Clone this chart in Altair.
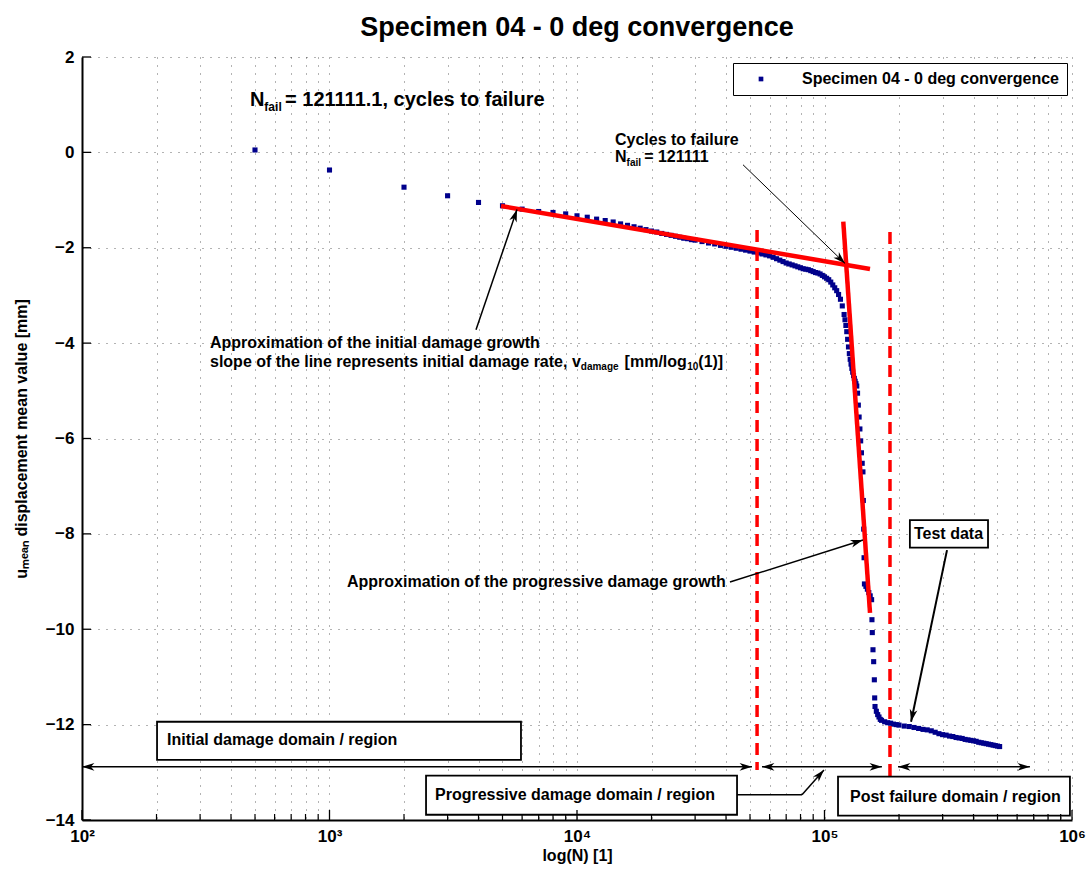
import math
import altair as alt
import pandas as pd

# ---------------- data ----------------
N_CYCLES = [
    500, 1000, 2000, 3000, 4000,
    5000, 6000, 7000, 8000, 9000, 10000, 11000, 12000, 13000, 14000, 15000, 16000, 17000, 18000, 19000, 20000,
    21000, 22000, 23000, 24000, 25000, 26000, 27000, 28000, 29000, 30000,
    32000, 34000, 36000, 38000, 40000, 42000, 44000, 46000, 48000, 50000,
    52000, 54000, 56000, 58000, 60000, 62000, 64000, 66000, 68000, 70000,
    72000, 74000, 76000, 78000, 80000, 82000, 84000, 86000, 88000, 90000,
    92000, 94000, 96000, 98000, 100000, 102000, 104000, 106000, 108000, 110000,
    112000, 114000, 116000, 118000, 120000, 121000, 122000, 123000, 124000, 125000,
    126000, 127000, 128000, 129000, 130000, 131000, 132000, 133000, 134000, 135000,
    136000, 137000, 138000, 139000, 140000, 141000, 142000, 143000, 143500, 144000,
    144500, 145000, 147000, 149000, 151000, 153000, 155000, 155500, 156000, 157000,
    158000, 159000, 159500, 160000, 162000, 164000, 166000, 168000, 170000, 175000,
    180000, 185000, 190000, 195000, 200000, 210000, 220000, 230000, 240000, 250000,
    260000, 270000, 280000, 290000, 300000, 310000, 320000, 330000, 340000, 350000,
    360000, 370000, 380000, 390000, 400000, 410000, 420000, 430000, 440000, 450000,
    460000, 470000, 480000, 490000, 500000, 510000,
]
U_MEAN = [
    0.05, -0.37, -0.73, -0.91, -1.05,
    -1.12, -1.19, -1.24, -1.26, -1.29, -1.33, -1.36, -1.40, -1.43, -1.46, -1.50, -1.53, -1.56, -1.59, -1.62, -1.65,
    -1.67, -1.70, -1.72, -1.74, -1.76, -1.78, -1.80, -1.81, -1.83, -1.84,
    -1.87, -1.90, -1.92, -1.95, -1.97, -1.99, -2.01, -2.03, -2.05, -2.07,
    -2.09, -2.11, -2.13, -2.15, -2.17, -2.20, -2.23, -2.26, -2.29, -2.32,
    -2.34, -2.36, -2.38, -2.40, -2.42, -2.44, -2.45, -2.46, -2.48, -2.50,
    -2.52, -2.53, -2.55, -2.58, -2.61, -2.64, -2.67, -2.72, -2.78, -2.84,
    -2.90, -2.98, -3.08, -3.22, -3.40, -3.51, -3.63, -3.76, -3.92, -4.08,
    -4.22, -4.34, -4.44, -4.53, -4.61, -4.68, -4.74, -4.80, -4.85, -4.90,
    -5.05, -5.30, -5.55, -5.80, -6.05, -6.30, -6.52, -6.70, -7.30, -7.90,
    -8.50, -9.05, -9.10, -9.16, -9.23, -9.30, -9.38, -9.80, -10.07, -10.43,
    -10.68, -11.06, -11.44, -11.62, -11.72, -11.79, -11.84, -11.89, -11.91, -11.94,
    -11.96, -11.97, -11.99, -12.00, -12.01, -12.03, -12.04, -12.06, -12.08, -12.10,
    -12.11, -12.13, -12.16, -12.19, -12.21, -12.22, -12.24, -12.25, -12.27, -12.28,
    -12.29, -12.31, -12.32, -12.33, -12.34, -12.35, -12.37, -12.38, -12.39, -12.40,
    -12.41, -12.42, -12.43, -12.44, -12.45, -12.46,
]
assert len(N_CYCLES) == len(U_MEAN)
SERIES_NAME = "Specimen 04 - 0 deg convergence"

# fitted red lines: (N start, u start, N end, u end)
FIT_LINES = [
    (4932, -1.124, 152700, -2.444),   # initial damage growth
    (119100, -1.453, 152700, -9.656), # progressive damage growth
]
# domain borders (N, u top, u bottom)
BORDERS = [(53400, -1.63, -12.95), (183900, -1.67, -13.16)]

# arrows: (N tail, u tail, N head, u head, stroke width, head at tail too)
ARROWS = [
    (46860, -0.26, 121111, -2.33, 1.0, False),
    (3908, -3.72, 5722, -1.20, 1.5, False),
    (41500, -9.01, 143000, -8.13, 1.5, False),
    (312600, -8.34, 223700, -11.94, 2.0, False),
    (100, -12.885, 50930, -12.885, 1.5, True),
    (55900, -12.885, 170600, -12.885, 1.5, True),
    (198200, -12.885, 676000, -12.885, 1.5, True),
    (81100, -13.47, 99500, -12.95, 1.5, False),
]
PLAIN_SEGMENTS = [(44320, -13.47, 81100, -13.47, 1.5)]

# text boxes: (N left, N right, u top, u bottom)
BOXES = [
    (201, 5938, -11.94, -12.74),
    (2455, 44320, -13.07, -13.89),
    (113400, 981000, -13.09, -13.91),
    (221300, 457800, -7.71, -8.29),
]

# annotation texts: (N left, u, [(text, size, subscript?, extra gap before in px)])
ANNOTATIONS = [
    (477, 1.10, [("N", 20, False, 0), ("fail", 12, True, 0), (" = 121111.1, cycles to failure", 20, False, 2)]),
    (14240, 0.26, [("Cycles to failure", 16, False, 0)]),
    (14240, -0.10, [("N", 16, False, 0), ("fail", 10, True, 0), (" = 121111", 16, False, 2)]),
    (329, -4.00, [("Approximation of the initial damage growth", 16, False, 0)]),
    (329, -4.39, [("slope of the line represents initial damage rate, v", 16, False, 0), ("damage", 10, True, 0),
                  (" [mm/log", 16, False, 3), ("10", 10, True, -4), ("(1)]", 16, False, -1)]),
    (1177, -9.01, [("Approximation of the progressive damage growth", 16, False, 0)]),
    (229900, -8.00, [("Test data", 16, False, 0)]),
    (220.5, -12.32, [("Initial damage domain / region", 16, False, 0)]),
    (2668, -13.47, [("Progressive damage domain / region", 16, False, 0)]),
    (126800, -13.51, [("Post failure domain / region", 16, False, 0)]),
]

X_TICKS = [100, 200, 300, 400, 500, 600, 700, 800, 900,
           1000, 2000, 3000, 4000, 5000, 6000, 7000, 8000, 9000,
           10000, 20000, 30000, 40000, 50000, 60000, 70000, 80000, 90000,
           100000, 200000, 300000, 400000, 500000, 600000, 700000, 800000, 900000,
           1000000]
X_MAJOR = [100, 1000, 10000, 100000, 1000000]
Y_TICKS = [2, 0, -2, -4, -6, -8, -10, -12, -14]

# ---------------- layout helpers ----------------
W, H = 990, 763
PX_DEC = W / 4.0      # pixels per decade
PX_UNIT = H / 16.0    # pixels per mm
FONT = "Liberation Sans, Arial, Helvetica, sans-serif"

CHAR_W = {" ": 278, "(": 333, ")": 333, ",": 278, "-": 333, ".": 278, "/": 278, "=": 584,
          "[": 333, "]": 333, "A": 722, "C": 722, "N": 722, "P": 667, "S": 667, "T": 611, "I": 278,
          "a": 556, "b": 611, "c": 556, "d": 611, "e": 556, "f": 333, "g": 611, "h": 611, "i": 278,
          "k": 556, "l": 278, "m": 889, "n": 611, "o": 611, "p": 611, "r": 389, "s": 556, "t": 333,
          "u": 611, "v": 556, "w": 778, "x": 556, "y": 556}


def text_width(s, size):
    return sum(CHAR_W.get(ch, 556 if ch.isdigit() else 600) for ch in s) * size / 1000.0


text_rows = []
for n0, u0, segs in ANNOTATIONS:
    dx = 0.0
    main = segs[0][1]
    for txt, size, sub, gap in segs:
        dx += gap
        dy = 0.35 * main if sub else 0.0
        text_rows.append({"x": n0 * 10 ** (dx / PX_DEC), "y": u0 - dy / PX_UNIT, "text": txt, "size": size})
        dx += text_width(txt, size) * (1.08 if sub else 1.0)
text_df = pd.DataFrame(text_rows)


def angle_of(nt, ut, nh, uh):
    dxp = (math.log10(nh) - math.log10(nt)) * PX_DEC
    dyp = -(uh - ut) * PX_UNIT
    return math.degrees(math.atan2(dxp, -dyp)) % 360


seg_rows, head_rows = [], []
for nt, ut, nh, uh, w, both in ARROWS:
    seg_rows.append({"x": nt, "y": ut, "x2": nh, "y2": uh, "w": w})
    head_rows.append({"x": nh, "y": uh, "angle": angle_of(nt, ut, nh, uh)})
    if both:
        head_rows.append({"x": nt, "y": ut, "angle": angle_of(nh, uh, nt, ut)})
for nt, ut, nh, uh, w in PLAIN_SEGMENTS:
    seg_rows.append({"x": nt, "y": ut, "x2": nh, "y2": uh, "w": w})
seg_df = pd.DataFrame(seg_rows)
head_df = pd.DataFrame(head_rows)

data_df = pd.DataFrame({"N": N_CYCLES, "u": U_MEAN, "series": SERIES_NAME})
fit_df = pd.DataFrame(FIT_LINES, columns=["x", "y", "x2", "y2"])
border_df = pd.DataFrame([{"x": n, "y": a, "y2": b} for n, a, b in BORDERS])
box_df = pd.DataFrame(BOXES, columns=["x", "x2", "y", "y2"])
ytick_df = pd.DataFrame({"x": [100] * len(Y_TICKS), "y": Y_TICKS})
xminor_df = pd.DataFrame({"x": [t for t in X_TICKS if t not in X_MAJOR], "y": -14})
xmajor_df = pd.DataFrame({"x": X_MAJOR, "y": -14})

# ---------------- scales & axes ----------------
xs = alt.Scale(type="log", domain=[100, 1000000], nice=False)
ys = alt.Scale(domain=[-14, 2], nice=False, zero=False)

label_expr = ("datum.value == 100 ? '10²' : datum.value == 1000 ? '10³' : "
              "datum.value == 10000 ? '10⁴' : datum.value == 100000 ? '10⁵' : "
              "datum.value == 1000000 ? '10⁶' : ''")

x_axis = alt.Axis(values=X_TICKS, labelExpr=label_expr, title="log(N) [1]", grid=True,
                  gridDash=[1, 7], gridColor="#000000", gridOpacity=0.6, gridWidth=1,
                  ticks=False, domainColor="#000000", domainWidth=2,
                  labelFont=FONT, labelFontSize=17, labelFontWeight="bold", labelColor="#000000",
                  labelFlush=False, labelOverlap=False, labelPadding=8,
                  titleFont=FONT, titleFontSize=16, titleFontWeight="bold", titleColor="#000000",
                  titlePadding=3)
y_axis = alt.Axis(values=Y_TICKS, title="uₘₑₐₙ displacement mean value [mm]", grid=True,
                  gridDash=[1, 7], gridColor="#000000", gridOpacity=0.6, gridWidth=1,
                  ticks=False, domainColor="#000000", domainWidth=2,
                  labelFont=FONT, labelFontSize=17, labelFontWeight="bold", labelColor="#000000",
                  labelPadding=8,
                  titleFont=FONT, titleFontSize=16, titleFontWeight="bold", titleColor="#000000",
                  titlePadding=16)


def X(f):
    return alt.X(f, type="quantitative", scale=xs, axis=x_axis)


def Y(f):
    return alt.Y(f, type="quantitative", scale=ys, axis=y_axis)


ARROW_HEAD = "M0,0L0.5,1.6L0,1.15L-0.5,1.6Z"

points = alt.Chart(data_df).mark_square(size=26, opacity=1).encode(
    x=X("N"), y=Y("u"),
    color=alt.Color("series:N", scale=alt.Scale(domain=[SERIES_NAME], range=["#00008b"]),
                    legend=alt.Legend(title=None, orient="none", legendX=651, legendY=6,
                                      strokeColor="#000000", fillColor="#ffffff", padding=8,
                                      symbolType="square", symbolSize=22, symbolOffset=12,
                                      labelOffset=33, labelFont=FONT, labelFontSize=16,
                                      labelFontWeight="bold", labelColor="#000000", labelLimit=400)),
)

fits = alt.Chart(fit_df).mark_rule(color="#ff0000", strokeWidth=4.5).encode(
    x=X("x"), y=Y("y"), x2="x2", y2="y2")

borders = alt.Chart(border_df).mark_rule(color="#ff0000", strokeWidth=3.5, strokeDash=[12, 7]).encode(
    x=X("x"), y=Y("y"), y2="y2")

boxes = alt.Chart(box_df).mark_rect(fill="#ffffff", stroke="#000000", strokeWidth=1.8).encode(
    x=X("x"), x2="x2", y=Y("y"), y2="y2")

segs = alt.Chart(seg_df).mark_rule(color="#000000").encode(
    x=X("x"), y=Y("y"), x2="x2", y2="y2", strokeWidth=alt.StrokeWidth("w:Q", scale=None))

heads = alt.Chart(head_df).mark_point(shape=ARROW_HEAD, filled=True, size=240, color="#000000",
                                      opacity=1).encode(
    x=X("x"), y=Y("y"), angle=alt.Angle("angle:Q", scale=None))

texts = alt.Chart(text_df).mark_text(align="left", baseline="middle", font=FONT, fontWeight="bold",
                                     color="#000000").encode(
    x=X("x"), y=Y("y"), text="text:N", size=alt.Size("size:Q", scale=None))

yticks = alt.Chart(ytick_df).mark_tick(orient="horizontal", size=9, thickness=1.3, xOffset=4.5,
                                       color="#000000", opacity=1).encode(x=X("x"), y=Y("y"))
xminor = alt.Chart(xminor_df).mark_tick(orient="vertical", size=6, thickness=1.2, yOffset=-3,
                                        color="#000000", opacity=1).encode(x=X("x"), y=Y("y"))
xmajor = alt.Chart(xmajor_df).mark_tick(orient="vertical", size=10, thickness=1.3, yOffset=-5,
                                        color="#000000", opacity=1).encode(x=X("x"), y=Y("y"))

chart = alt.layer(points, fits, borders, boxes, segs, heads, texts, yticks, xminor, xmajor).properties(
    width=W, height=H,
    title=alt.TitleParams(SERIES_NAME, font=FONT, fontSize=27, fontWeight="bold", color="#000000",
                          anchor="middle", offset=6),
    padding={"left": 82, "top": 57, "right": 18, "bottom": 56},
    autosize=alt.AutoSizeParams(type="none"),
).configure_view(stroke=None)

chart.save("out.html", embed_options={"renderer": "svg", "actions": False})
